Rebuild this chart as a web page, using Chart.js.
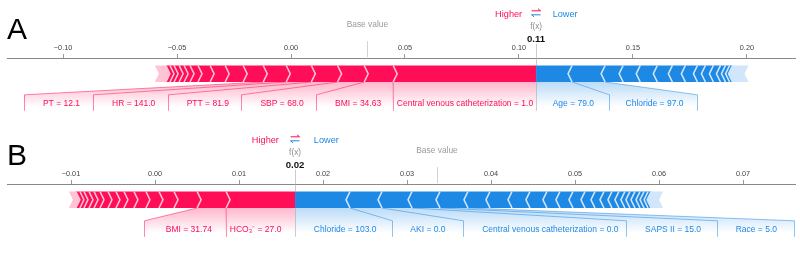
<!DOCTYPE html>
<html><head><meta charset="utf-8">
<script src="https://cdn.jsdelivr.net/npm/chart.js@4.4.1/dist/chart.umd.min.js"></script>
<style>
html,body{margin:0;padding:0;background:#fff;}
canvas{display:block;}
</style></head>
<body>
<canvas id="cA" width="800" height="126"></canvas>
<canvas id="cB" width="800" height="127"></canvas>
<script>
// ---------- Panel A ----------
const fxA = 0.1075;
const redNamesA = ["Central venous catheterization = 1.0","BMI = 34.63","SBP = 68.0","PTT = 81.9","HR = 141.0","PT = 12.1"];
const redValuesA = [0.0627,0.0127,0.0117,0.0115,0.0110,0.0101,0.0088,0.0079,0.0066,0.0053,0.0035,0.0026,0.0022,0.0022,0.0018,0.0018];
const redRestA = 0.0048;
const blueNamesA = ["Age = 79.0","Chloride = 97.0"];
const blueValuesA = [0.0158,0.0145,0.0079,0.0075,0.0075,0.0066,0.0057,0.0053,0.0035,0.0035,0.0031,0.0022,0.0018,0.0013];
const blueRestA = 0.0070;
const ticksA = [-0.10,-0.05,0.00,0.05,0.10,0.15,0.20];
const rangeA = [-0.1246, 0.2211];

// ---------- Panel B ----------
const fxB = 0.01667;
const redNamesB = ["HCO\u2083\u207B = 27.0","BMI = 31.74"];
const redValuesB = [0.00821,0.00345,0.00275,0.00179,0.00155,0.00143,0.00119,0.00095,0.00095,0.00095,0.00071,0.00060,0.00060,0.00048,0.00048];
const redRestB = 0.00083;
const blueNamesB = ["Chloride = 103.0","AKI = 0.0","Central venous catheterization = 0.0","SAPS II = 15.0","Race = 5.0"];
const blueValuesB = [0.00655,0.00381,0.00357,0.00333,0.00333,0.00262,0.00262,0.00214,0.00202,0.00155,0.00155,0.00143,0.00119,0.00107,0.00095,0.00083,0.00071,0.00060,0.00060,0.00060,0.00048,0.00048,0.00036];
const blueRestB = 0.00143;
const ticksB = [-0.01,0.00,0.01,0.02,0.03,0.04,0.05,0.06,0.07];
const rangeB = [-0.01762, 0.07619];

// ---------- drawing ----------
const FONT = '"Liberation Sans", Arial, Helvetica, sans-serif';
const RED = [255,13,87], BLUE = [30,136,229];
const RED_SEP = '#FFC3D5', BLUE_SEP = '#D1E6FA';
const TIP = 4, U = 160, BAR = 16.5;
const LABEL_PX = 8.5, TEXT_PAD = 0.3*LABEL_PX, MEASURE_RATIO = 0.9;
function rgba(c,a){return 'rgba('+c[0]+','+c[1]+','+c[2]+','+a+')';}
function sum(a){return a.reduce((s,v)=>s+v,0);}
function fmt(v){const r=Math.round(v*100)/100;return (r<0?'\u2212':'')+Math.abs(r).toFixed(2);}

function makeBlocks(fx, vals, rest, dir){
  const out=[]; let cur=fx;
  const all = vals.concat([rest]);
  all.forEach((v,i)=>{
    const nxt = cur + dir*v;
    out.push({x:[cur,nxt], y:'f', kind: i===all.length-1 ? 'tail' : (i===0 ? 'inner' : 'mid')});
    cur = nxt;
  });
  return out;
}

const forcePlugin = {
  id:'force',
  afterDraw(chart){
    const o = chart.options.plugins.force;
    const ctx = chart.ctx, xs = chart.scales.x;
    const fxPx = xs.getPixelForValue(o.fx);
    const basePx = xs.getPixelForValue(o.base);
    const offPx = xs.getPixelForValue(o.offset) - xs.getPixelForValue(0);
    const mR = chart.getDatasetMeta(0), mB = chart.getDatasetMeta(1);
    const e0 = mR.data[0];
    const top = e0.y - e0.height/2, bot = e0.y + e0.height/2, mid = e0.y;
    const segs = (meta, data) => meta.data.map((el,i)=>({a:Math.min(el.x,el.base), b:Math.max(el.x,el.base), kind:data[i].kind}));
    const sR = segs(mR, chart.data.datasets[0].data);
    const sB = segs(mB, chart.data.datasets[1].data);

    ctx.save();
    ctx.font = LABEL_PX + 'px ' + FONT;
    const texts = [], links = [], shades = [];
    // positive (red) labels, going left from f(x)
    (function(){
      let start = fxPx, preVal = fxPx, boxEnd = fxPx;
      o.redNames.forEach((name,i)=>{
        const val = sR[i].a;
        const wm = MEASURE_RATIO * ctx.measureText(name).width;
        const right = start - offPx, left = right - wm, be = left - TEXT_PAD;
        if (be > val) { links.push({c:RED, p:[[val,bot],[val,bot+0.18*U]]}); start = val; boxEnd = val; }
        else { boxEnd = be - offPx; links.push({c:RED, p:[[val,bot],[boxEnd,bot+0.08*U],[boxEnd,bot+0.18*U]]}); start = boxEnd; }
        preVal = val;
        texts.push({name, x:left, c:RED});
      });
      shades.push({c:RED, preVal, boxEnd});
    })();
    // negative (blue) labels, going right from f(x)
    (function(){
      let start = fxPx, preVal = fxPx, boxEnd = fxPx;
      o.blueNames.forEach((name,i)=>{
        const val = sB[i].b;
        const wm = MEASURE_RATIO * ctx.measureText(name).width;
        const left = start + offPx, be = left + wm + TEXT_PAD;
        if (be < val) { links.push({c:BLUE, p:[[val,bot],[val,bot+0.18*U]]}); start = val; boxEnd = val; }
        else { boxEnd = be + offPx; links.push({c:BLUE, p:[[val,bot],[boxEnd,bot+0.08*U],[boxEnd,bot+0.18*U]]}); start = boxEnd; }
        preVal = val;
        texts.push({name, x:left, c:BLUE});
      });
      shades.push({c:BLUE, preVal, boxEnd});
    })();

    // shading under labels
    shades.forEach(s=>{
      const g = ctx.createLinearGradient(0, bot, 0, bot+0.155*U);
      g.addColorStop(0, rgba(s.c,0.3)); g.addColorStop(1, rgba(s.c,0));
      ctx.fillStyle = g;
      ctx.beginPath();
      ctx.moveTo(fxPx, bot); ctx.lineTo(s.preVal, bot);
      ctx.lineTo(s.boxEnd, bot+0.08*U); ctx.lineTo(s.boxEnd, bot+0.2*U);
      ctx.lineTo(fxPx, bot+0.2*U); ctx.closePath(); ctx.fill();
    });
    // link lines
    ctx.lineWidth = 1;
    links.forEach(l=>{
      ctx.strokeStyle = rgba(l.c,0.5);
      ctx.beginPath();
      l.p.forEach((pt,j)=>{ const x = j===0 ? pt[0] : Math.round(pt[0])+0.5; j===0 ? ctx.moveTo(x,pt[1]) : ctx.lineTo(x,pt[1]); });
      ctx.stroke();
    });
    // f(x) line and base value line
    const fxl = Math.round(fxPx)+0.5;
    ctx.strokeStyle = 'rgba(170,170,170,0.6)';
    ctx.beginPath(); ctx.moveTo(fxl, bot-0.24*U); ctx.lineTo(fxl, top); ctx.moveTo(fxl, bot); ctx.lineTo(fxl, bot+0.18*U); ctx.stroke();
    const bl = Math.round(basePx)+0.5;
    ctx.strokeStyle = '#d2d2d2';
    ctx.beginPath(); ctx.moveTo(bl, bot-0.255*U); ctx.lineTo(bl, xs.bottom-1); ctx.stroke();

    // ---- bar blocks with chevrons ----
    function drawBlocks(ss, dir, color, sepColor){
      ss.forEach(s=>{
        ctx.fillStyle = s.kind==='tail' ? sepColor : rgba(color,1);
        ctx.beginPath();
        if (dir<0){
          ctx.moveTo(s.a, top); ctx.lineTo(s.b, top);
          if (s.kind!=='inner') ctx.lineTo(s.b+TIP, mid);
          ctx.lineTo(s.b, bot); ctx.lineTo(s.a, bot); ctx.lineTo(s.a+TIP, mid);
        } else {
          ctx.moveTo(s.b, top); ctx.lineTo(s.a, top);
          if (s.kind!=='inner') ctx.lineTo(s.a-TIP, mid);
          ctx.lineTo(s.a, bot); ctx.lineTo(s.b, bot); ctx.lineTo(s.b-TIP, mid);
        }
        ctx.closePath(); ctx.fill();
      });
      ctx.strokeStyle = sepColor; ctx.lineWidth = 1.6;
      ss.forEach(s=>{
        if (s.kind==='tail') return;
        const x = dir<0 ? s.a : s.b, t = dir<0 ? TIP : -TIP;
        ctx.beginPath(); ctx.moveTo(x, top); ctx.lineTo(x+t, mid); ctx.lineTo(x, bot); ctx.stroke();
      });
    }
    drawBlocks(sR, -1, RED, RED_SEP);
    drawBlocks(sB, 1, BLUE, BLUE_SEP);

    // ---- label texts ----
    ctx.font = LABEL_PX + 'px ' + FONT; ctx.textAlign = 'left'; ctx.textBaseline = 'alphabetic';
    texts.forEach(t=>{ ctx.fillStyle = rgba(t.c,1); ctx.fillText(t.name, t.x, bot+0.15*U); });

    // ---- header ----
    ctx.font = '9.2px ' + FONT;
    const hw = MEASURE_RATIO * ctx.measureText('Higher').width;
    ctx.fillStyle = rgba(RED,1); ctx.fillText('Higher', fxPx - offPx - hw, bot-0.405*U);
    ctx.fillStyle = rgba(BLUE,1); ctx.fillText('Lower', fxPx + offPx, bot-0.405*U);
    // arrows
    ctx.lineWidth = 1;
    const ya = bot-0.425*U-3.2, yb = bot-0.4*U-3.2;
    ctx.strokeStyle = rgba(RED,1);
    ctx.beginPath(); ctx.moveTo(fxPx-4.5, ya); ctx.lineTo(fxPx+4.5, ya); ctx.moveTo(fxPx+2, ya-2); ctx.lineTo(fxPx+4.5, ya); ctx.stroke();
    ctx.strokeStyle = rgba(BLUE,1);
    ctx.beginPath(); ctx.moveTo(fxPx+4.5, yb); ctx.lineTo(fxPx-4.5, yb); ctx.moveTo(fxPx-2, yb+2); ctx.lineTo(fxPx-4.5, yb); ctx.stroke();

    ctx.textAlign = 'center';
    ctx.font = '8.2px ' + FONT; ctx.fillStyle = '#8c8c8c';
    ctx.fillText('f(x)', fxPx, bot-0.33*U);
    ctx.font = 'bold 9.6px ' + FONT; ctx.fillStyle = '#111';
    ctx.fillText(fmt(o.fx), fxPx, bot-0.25*U);
    ctx.font = '8.4px ' + FONT; ctx.fillStyle = '#9a9a9a';
    ctx.fillText('Base value', basePx, bot-0.345*U);

    // panel letter
    ctx.font = '30px ' + FONT; ctx.fillStyle = '#000'; ctx.textAlign = 'left';
    ctx.fillText(o.letter, 7, 38.5);
    ctx.restore();
  }
};

function makeChart(id, cfg){
  const red = makeBlocks(cfg.fx, cfg.redValues, cfg.redRest, -1);
  const blue = makeBlocks(cfg.fx, cfg.blueValues, cfg.blueRest, 1);
  const totPos = sum(cfg.redValues) + cfg.redRest, totNeg = sum(cfg.blueValues) + cfg.blueRest;
  const base = cfg.fx - totPos + totNeg;
  const offset = 0.04 * ((totPos - cfg.redValues[0]) + (totNeg - cfg.blueValues[0]));
  return new Chart(document.getElementById(id), {
    type:'bar',
    data:{labels:['f'], datasets:[
      {data:red, backgroundColor:'rgba(0,0,0,0)', borderWidth:0, barThickness:BAR, grouped:false},
      {data:blue, backgroundColor:'rgba(0,0,0,0)', borderWidth:0, barThickness:BAR, grouped:false}
    ]},
    options:{
      indexAxis:'y', responsive:false, animation:false, devicePixelRatio:1,
      layout:{padding:{left:7, right:5, top:0, bottom:cfg.padBottom}},
      scales:{
        x:{type:'linear', position:'top', min:cfg.range[0], max:cfg.range[1],
           afterFit: s => { s.height = 58; },
           afterBuildTicks: s => { s.ticks = cfg.ticks.map(v=>({value:v})); },
           grid:{drawOnChartArea:false, drawTicks:true, tickLength:4, color:'#999'},
           border:{display:true, color:'#888', width:1},
           ticks:{padding:1.5, color:'#444', font:{size:7.3, family:FONT}, maxRotation:0, autoSkip:false, callback: v => fmt(v)}},
        y:{display:false}
      },
      plugins:{legend:{display:false}, tooltip:{enabled:false},
        force:{fx:cfg.fx, base:base, offset:offset, letter:cfg.letter, redNames:cfg.redNames, blueNames:cfg.blueNames}}
    },
    plugins:[forcePlugin]
  });
}

makeChart('cA', {fx:fxA, redValues:redValuesA, redRest:redRestA, blueValues:blueValuesA, blueRest:blueRestA,
  redNames:redNamesA, blueNames:blueNamesA, ticks:ticksA, range:rangeA, letter:'A', padBottom:36.5});
makeChart('cB', {fx:fxB, redValues:redValuesB, redRest:redRestB, blueValues:blueValuesB, blueRest:blueRestB,
  redNames:redNamesB, blueNames:blueNamesB, ticks:ticksB, range:rangeB, letter:'B', padBottom:37.5});
</script>
</body></html>
